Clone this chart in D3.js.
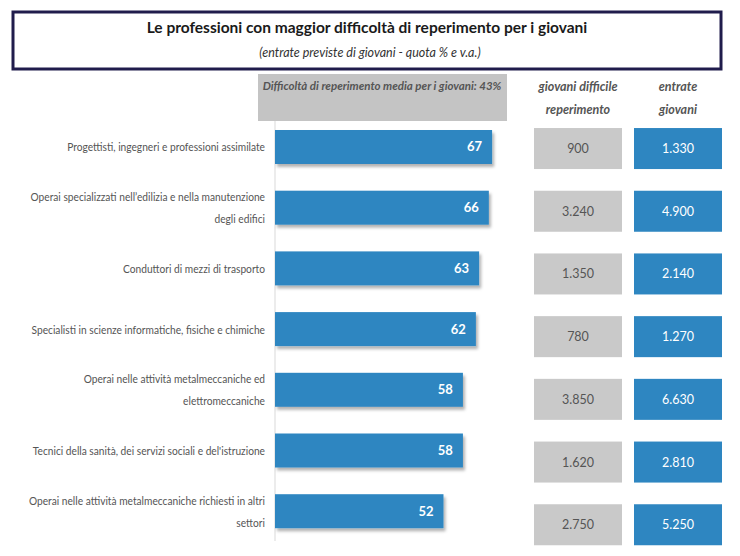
<!DOCTYPE html>
<html><head><meta charset="utf-8">
<script src="https://cdn.jsdelivr.net/npm/d3@7/dist/d3.min.js"></script>
<style>
body{margin:0;background:#fff;}
svg{display:block;font-family:Lato,"Open Sans",sans-serif;}
</style></head><body>
<svg id="chart" width="740" height="556"></svg>
<script>
const categories = [
  ["Progettisti, ingegneri e professioni assimilate"],
  ["Operai specializzati nell’edilizia e nella manutenzione","degli edifici"],
  ["Conduttori di mezzi di trasporto"],
  ["Specialisti in scienze informatiche, fisiche e chimiche"],
  ["Operai nelle attività metalmeccaniche ed","elettromeccaniche"],
  ["Tecnici della sanità, dei servizi sociali e del'istruzione"],
  ["Operai nelle attività metalmeccaniche richiesti in altri","settori"]
];
const difficolta = [67, 66, 63, 62, 58, 58, 52];
const giovaniDifficile = ["900","3.240","1.350","780","3.850","1.620","2.750"];
const entrateGiovani = ["1.330","4.900","2.140","1.270","6.630","2.810","5.250"];
const title = "Le professioni con maggior difficoltà di reperimento per i giovani";
const subtitle = "(entrate previste di giovani - quota % e v.a.)";
const headerMedia = "Difficoltà di reperimento media per i giovani: 43%";
const colHeaders = [["giovani difficile","reperimento"],["entrate","giovani"]];

const svg = d3.select("#chart");
const blue = "#2e86c1", gray = "#c9c9c9", textGray = "#555";

const defs = svg.append("defs");
const f = defs.append("filter").attr("id","sh").attr("x","-10%").attr("y","-20%").attr("width","130%").attr("height","160%");
f.append("feDropShadow").attr("dx",2).attr("dy",3).attr("stdDeviation",1.8).attr("flood-color","#000").attr("flood-opacity",0.3);

// Title box
svg.append("rect").attr("x",13).attr("y",12).attr("width",708).attr("height",57)
  .attr("fill","#fff").attr("stroke","#201c4c").attr("stroke-width",3);
svg.append("text").attr("x",367).attr("y",33).attr("text-anchor","middle")
  .attr("font-size",15.5).attr("font-weight","bold").attr("fill","#1a1a1a").text(title);
svg.append("text").attr("x",370).attr("y",57).attr("text-anchor","middle")
  .attr("font-size",12.5).attr("font-style","italic").attr("fill","#333").text(subtitle);

// header gray box
svg.append("rect").attr("x",258).attr("y",74).attr("width",249).attr("height",47).attr("fill","#c4c4c4");
svg.append("text").attr("x",382).attr("y",90).attr("text-anchor","middle")
  .attr("font-size",11.5).attr("font-weight","bold").attr("font-style","italic").attr("fill","#555").text(headerMedia);

// column headers
const colX = [578, 678];
colHeaders.forEach((lines,i)=>{
  lines.forEach((l,j)=>{
    svg.append("text").attr("x",colX[i]).attr("y",91+j*23).attr("text-anchor","middle")
      .attr("font-size",12.5).attr("font-weight","bold").attr("font-style","italic").attr("fill","#555").text(l);
  });
});

// scales
const idx = d3.range(categories.length);
const x = d3.scaleLinear().domain([0,100]).range([275, 599]);
const y = d3.scaleBand().domain(idx).range([113, 545.2]).paddingInner(0.44).paddingOuter(0.28);
const yb = d3.scaleBand().domain(idx).range([115.5, 557.8]).paddingInner(0.346).paddingOuter(0.2);

// axis line
svg.append("line").attr("x1",x(0)).attr("x2",x(0)).attr("y1",121).attr("y2",541)
  .attr("stroke","#d9d9d9").attr("stroke-width",1);

// bars
svg.append("g").selectAll("rect").data(idx).join("rect")
  .attr("x",x(0)).attr("y",i=>y(i)).attr("width",i=>x(difficolta[i])-x(0)).attr("height",y.bandwidth())
  .attr("fill",blue).attr("filter","url(#sh)");
svg.append("g").selectAll("text").data(idx).join("text")
  .attr("x",i=>x(difficolta[i])-10).attr("y",i=>y(i)+y.bandwidth()/2+4.5)
  .attr("text-anchor","end").attr("font-size",13).attr("font-weight","bold").attr("fill","#fff")
  .text(i=>difficolta[i]);

// category labels (condensed horizontally to mimic the narrow original face)
const lab = svg.append("g");
idx.forEach(i=>{
  const lines = categories[i];
  const cy = y(i)+y.bandwidth()/2;
  const lh = 22;
  lines.forEach((l,j)=>{
    lab.append("text")
      .attr("transform",`translate(265,${cy + (j-(lines.length-1)/2)*lh + 4.5}) scale(0.85,1)`)
      .attr("text-anchor","end").attr("font-size",12).attr("fill",textGray).text(l);
  });
});

// side boxes
const cols = [
  {x0:534, vals:giovaniDifficile, fill:gray, tc:textGray},
  {x0:634, vals:entrateGiovani, fill:blue, tc:"#fff"}
];
cols.forEach(c=>{
  const g = svg.append("g");
  g.selectAll("rect").data(idx).join("rect")
    .attr("x",c.x0).attr("y",i=>yb(i)).attr("width",88).attr("height",yb.bandwidth()).attr("fill",c.fill);
  g.selectAll("text").data(idx).join("text")
    .attr("x",c.x0+44).attr("y",i=>yb(i)+yb.bandwidth()/2+4.5).attr("text-anchor","middle")
    .attr("font-size",12.5).attr("fill",c.tc).text(i=>c.vals[i]);
});
</script>
</body></html>
